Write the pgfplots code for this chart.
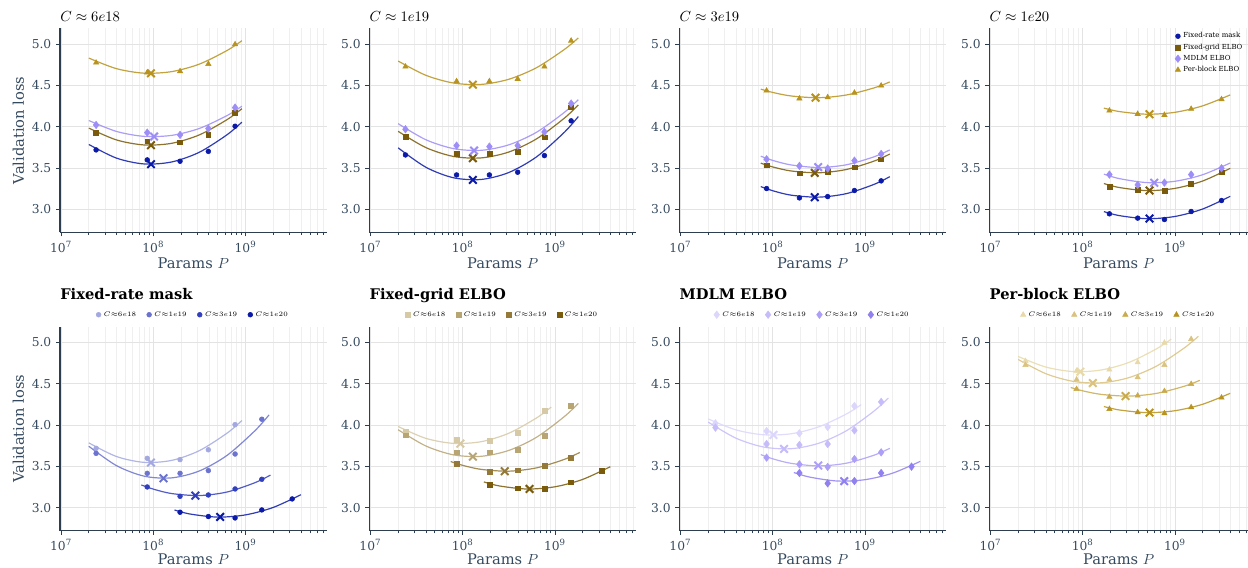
\documentclass[border=0pt]{standalone}
\usepackage{fontspec}
\setmainfont{DejaVu Serif}
\usepackage{pgfplots}
\pgfplotsset{compat=1.18}
\usepackage{pgfplotstable}

\definecolor{FRa}{HTML}{A3A9E0}
\definecolor{FRb}{HTML}{6B73CF}
\definecolor{FRc}{HTML}{3340BE}
\definecolor{FRd}{HTML}{0B1AA8}
\definecolor{FGa}{HTML}{D6C9A6}
\definecolor{FGb}{HTML}{B8A574}
\definecolor{FGc}{HTML}{957938}
\definecolor{FGd}{HTML}{7A5B0B}
\definecolor{MDa}{HTML}{DCD5FC}
\definecolor{MDb}{HTML}{C6BCFA}
\definecolor{MDc}{HTML}{AD9FF7}
\definecolor{MDd}{HTML}{9080F0}
\definecolor{MDm}{HTML}{9D8DF6}
\definecolor{PBa}{HTML}{E8D9A8}
\definecolor{PBb}{HTML}{DAC27F}
\definecolor{PBc}{HTML}{C9AA4C}
\definecolor{PBd}{HTML}{B8931E}
\definecolor{textc}{HTML}{34495E}
\definecolor{spinec}{HTML}{2C3E50}
\definecolor{gridc}{HTML}{E3E3E3}
\definecolor{gridm}{HTML}{EFEFEF}

% measured points: P, Fixed-rate, Fixed-grid, MDLM, Per-block
\pgfplotstableread{
P FR FG MD PB
2.4e7 3.718 3.924 4.020 4.774
8.6e7 3.597 3.823 3.927 4.655
1.95e8 3.581 3.810 3.900 4.670
3.95e8 3.700 3.903 3.976 4.758
7.7e8 4.005 4.170 4.230 4.996
}\ptsA
\pgfplotstableread{
P FR FG MD PB
2.4e7 3.657 3.875 3.968 4.726
8.6e7 3.415 3.669 3.770 4.549
1.95e8 3.415 3.669 3.758 4.549
3.95e8 3.448 3.700 3.770 4.577
7.7e8 3.649 3.870 3.935 4.726
1.5e9 4.070 4.234 4.280 5.040
}\ptsB
\pgfplotstableread{
P FR FG MD PB
8.6e7 3.250 3.532 3.605 4.435
1.95e8 3.137 3.436 3.524 4.340
3.95e8 3.153 3.452 3.492 4.355
7.7e8 3.226 3.508 3.588 4.410
1.5e9 3.343 3.605 3.669 4.496
}\ptsC
\pgfplotstableread{
P FR FG MD PB
1.95e8 2.944 3.274 3.419 4.193
3.95e8 2.892 3.234 3.294 4.153
7.7e8 2.875 3.226 3.322 4.141
1.5e9 2.972 3.307 3.419 4.214
3.2e9 3.105 3.448 3.496 4.331
}\ptsD

% fitted curves
\pgfplotstableread{
P FR FG MD PB
2.0e7 3.784 3.982 4.074 4.830
3.98e7 3.619 3.839 3.942 4.702
7.94e7 3.548 3.778 3.882 4.647
1.585e8 3.572 3.798 3.894 4.666
3.16e8 3.690 3.900 3.978 4.757
6.31e8 3.902 4.085 4.134 4.922
9.12e8 4.054 4.217 4.247 5.040
}\fitA
\pgfplotstableread{
P FR FG MD PB
2.0e7 3.743 3.943 4.036 4.794
3.98e7 3.509 3.747 3.842 4.622
7.94e7 3.381 3.639 3.734 4.528
1.585e8 3.360 3.621 3.713 4.511
3.16e8 3.444 3.692 3.779 4.573
6.31e8 3.633 3.851 3.931 4.713
1.259e9 3.929 4.100 4.170 4.932
1.795e9 4.122 4.262 4.327 5.074
}\fitB
\pgfplotstableread{
P FR FG MD PB
7.43e7 3.274 3.558 3.642 4.454
1.0e8 3.224 3.512 3.591 4.414
1.585e8 3.170 3.463 3.536 4.371
3.16e8 3.146 3.441 3.505 4.350
6.31e8 3.189 3.481 3.538 4.383
1.259e9 3.301 3.583 3.635 4.469
1.862e9 3.394 3.668 3.718 4.541
}\fitC
\pgfplotstableread{
P FR FG MD PB
1.70e8 2.971 3.311 3.425 4.224
2.51e8 2.922 3.262 3.370 4.182
5.01e8 2.885 3.225 3.322 4.150
1.0e9 2.912 3.252 3.338 4.173
1.995e9 3.002 3.341 3.417 4.251
3.98e9 3.156 3.495 3.560 4.384
}\fitD

\newcommand{\fitline}[3]{\addplot[color=#1, line width=0.9pt, opacity=0.85, smooth, no markers, forget plot] table[x=P,y=#3]{#2};}
\newcommand{\optmark}[3]{\addplot[forget plot, only marks, mark=x, mark size=4pt, color=#1, mark options={line width=1.5pt}] coordinates {(#2,#3)};}

\pgfplotsset{
  every axis/.append style={
    scale only axis, width=200pt, height=153pt, anchor=south west,
    xmin=9.75e6, xmax=7.57e9, ymin=2.72, ymax=5.19,
    axis x line*=bottom, axis y line*=left,
    axis line style={spinec, line width=0.9pt},
    xtick={1e7,1e8,1e9},
    xticklabels={10\textsuperscript{7},10\textsuperscript{8},10\textsuperscript{9}},
    minor xtick={2e7,3e7,4e7,5e7,6e7,7e7,8e7,9e7,2e8,3e8,4e8,5e8,6e8,7e8,8e8,9e8,2e9,3e9,4e9,5e9,6e9,7e9,8e9,9e9},
    ytick={3,3.5,4,4.5,5}, yticklabels={3.0,3.5,4.0,4.5,5.0},
    grid=both, major grid style={gridc, line width=0.6pt}, minor grid style={gridm, line width=0.5pt},
    tick align=outside, major tick length=3pt, minor tick length=2pt,
    tick style={spinec, line width=0.6pt},
    every tick label/.append style={font=\fontsize{9.2}{10}\selectfont, text=textc},
    xlabel={Params $P$},
    x label style={at={(axis description cs:0.5,-0.152)}, anchor=center, font=\fontsize{11}{12}\selectfont, text=textc},
    y label style={at={(axis description cs:-0.156,0.5)}, anchor=center, font=\fontsize{11}{12}\selectfont, text=textc},
  },
  mypts/.style={only marks},
  mkFR/.style={mark=*, mark size=1.8pt},
  mkFG/.style={mark=square*, mark size=1.8pt},
  mkMD/.style={mark=diamond*, mark size=2.8pt},
  mkPB/.style={mark=triangle*, mark size=2.3pt},
}

\begin{document}
\begin{tikzpicture}
\useasboundingbox (0,0) rectangle (936pt,425.25pt);

% ---------------- top row ----------------
\begin{axis}[xmode=log, at={(45pt,251pt)},
  title style={at={(0,1)}, anchor=base west, inner sep=0pt, yshift=-1pt, font=\fontsize{10.5}{12}\selectfont},
  title={$C\approx 6e18$}, ylabel={Validation loss}]
\fitline{FRd}{\fitA}{FR}
\fitline{FGd}{\fitA}{FG}
\fitline{MDm}{\fitA}{MD}
\fitline{PBd}{\fitA}{PB}
\addplot[mypts, mkFR, FRd] table[x=P,y=FR]{\ptsA};
\addplot[mypts, mkFG, FGd] table[x=P,y=FG]{\ptsA};
\addplot[mypts, mkMD, MDm] table[x=P,y=MD]{\ptsA};
\addplot[mypts, mkPB, PBd] table[x=P,y=PB]{\ptsA};
\optmark{FRd}{9.44e7}{3.545}
\optmark{FGd}{9.44e7}{3.775}
\optmark{MDm}{1.02e8}{3.880}
\optmark{PBd}{9.44e7}{4.645}
\end{axis}

\begin{axis}[xmode=log, at={(277pt,251pt)},
  title style={at={(0,1)}, anchor=base west, inner sep=0pt, yshift=-1pt, font=\fontsize{10.5}{12}\selectfont},
  title={$C\approx 1e19$}]
\fitline{FRd}{\fitB}{FR}
\fitline{FGd}{\fitB}{FG}
\fitline{MDm}{\fitB}{MD}
\fitline{PBd}{\fitB}{PB}
\addplot[mypts, mkFR, FRd] table[x=P,y=FR]{\ptsB};
\addplot[mypts, mkFG, FGd] table[x=P,y=FG]{\ptsB};
\addplot[mypts, mkMD, MDm] table[x=P,y=MD]{\ptsB};
\addplot[mypts, mkPB, PBd] table[x=P,y=PB]{\ptsB};
\optmark{FRd}{1.29e8}{3.355}
\optmark{FGd}{1.29e8}{3.617}
\optmark{MDm}{1.33e8}{3.710}
\optmark{PBd}{1.29e8}{4.508}
\end{axis}

\begin{axis}[xmode=log, at={(509.5pt,251pt)},
  title style={at={(0,1)}, anchor=base west, inner sep=0pt, yshift=-1pt, font=\fontsize{10.5}{12}\selectfont},
  title={$C\approx 3e19$}]
\fitline{FRd}{\fitC}{FR}
\fitline{FGd}{\fitC}{FG}
\fitline{MDm}{\fitC}{MD}
\fitline{PBd}{\fitC}{PB}
\addplot[mypts, mkFR, FRd] table[x=P,y=FR]{\ptsC};
\addplot[mypts, mkFG, FGd] table[x=P,y=FG]{\ptsC};
\addplot[mypts, mkMD, MDm] table[x=P,y=MD]{\ptsC};
\addplot[mypts, mkPB, PBd] table[x=P,y=PB]{\ptsC};
\optmark{FRd}{2.86e8}{3.145}
\optmark{FGd}{2.86e8}{3.440}
\optmark{MDm}{3.12e8}{3.510}
\optmark{PBd}{2.92e8}{4.350}
\end{axis}

\begin{axis}[xmode=log, at={(742pt,251pt)}, width=194pt, xmax=6.2e9,
  title style={at={(0,1)}, anchor=base west, inner sep=0pt, yshift=-1pt, font=\fontsize{10.5}{12}\selectfont},
  title={$C\approx 1e20$},
  legend entries={Fixed-rate mask,Fixed-grid ELBO,MDLM ELBO,Per-block ELBO},
  legend style={at={(1,1)}, anchor=north east, xshift=-1pt, yshift=0pt, draw=none, fill=none,
    font=\fontsize{5.2}{6}\selectfont, row sep=-1pt, inner sep=1pt},
  legend cell align=left]
\fitline{FRd}{\fitD}{FR}
\fitline{FGd}{\fitD}{FG}
\fitline{MDm}{\fitD}{MD}
\fitline{PBd}{\fitD}{PB}
\addplot[mypts, mkFR, FRd] table[x=P,y=FR]{\ptsD};
\addplot[mypts, mkFG, FGd] table[x=P,y=FG]{\ptsD};
\addplot[mypts, mkMD, MDm] table[x=P,y=MD]{\ptsD};
\addplot[mypts, mkPB, PBd] table[x=P,y=PB]{\ptsD};
\optmark{FRd}{5.31e8}{2.887}
\optmark{FGd}{5.31e8}{3.226}
\optmark{MDm}{5.97e8}{3.320}
\optmark{PBd}{5.31e8}{4.150}
\end{axis}

% ---------------- bottom row ----------------
\begin{axis}[xmode=log, at={(45pt,27.2pt)},
  x label style={at={(axis description cs:0.5,-0.138)}},
  title style={at={(0,1)}, anchor=base west, inner sep=0pt, yshift=14.5pt, font=\fontsize{11}{13}\selectfont\bfseries},
  title={Fixed-rate mask}, ylabel={Validation loss},
  legend columns=4,
  legend style={at={(0.5,1)}, anchor=center, yshift=9pt, draw=none, fill=none,
    font=\fontsize{5}{6}\selectfont, /tikz/every even column/.append style={column sep=6pt}},
  legend entries={$C{\approx}6e18$,$C{\approx}1e19$,$C{\approx}3e19$,$C{\approx}1e20$}]
\fitline{FRa}{\fitA}{FR}
\fitline{FRb}{\fitB}{FR}
\fitline{FRc}{\fitC}{FR}
\fitline{FRd}{\fitD}{FR}
\addplot[mypts, mkFR, FRa] table[x=P,y=FR]{\ptsA};
\addplot[mypts, mkFR, FRb] table[x=P,y=FR]{\ptsB};
\addplot[mypts, mkFR, FRc] table[x=P,y=FR]{\ptsC};
\addplot[mypts, mkFR, FRd] table[x=P,y=FR]{\ptsD};
\optmark{FRa}{9.44e7}{3.545}
\optmark{FRb}{1.29e8}{3.355}
\optmark{FRc}{2.86e8}{3.145}
\optmark{FRd}{5.31e8}{2.887}
\end{axis}

\begin{axis}[xmode=log, at={(277pt,27.2pt)},
  x label style={at={(axis description cs:0.5,-0.138)}},
  title style={at={(0,1)}, anchor=base west, inner sep=0pt, yshift=14.5pt, font=\fontsize{11}{13}\selectfont\bfseries},
  title={Fixed-grid ELBO},
  legend columns=4,
  legend style={at={(0.5,1)}, anchor=center, yshift=9pt, draw=none, fill=none,
    font=\fontsize{5}{6}\selectfont, /tikz/every even column/.append style={column sep=6pt}},
  legend entries={$C{\approx}6e18$,$C{\approx}1e19$,$C{\approx}3e19$,$C{\approx}1e20$}]
\fitline{FGa}{\fitA}{FG}
\fitline{FGb}{\fitB}{FG}
\fitline{FGc}{\fitC}{FG}
\fitline{FGd}{\fitD}{FG}
\addplot[mypts, mkFG, FGa] table[x=P,y=FG]{\ptsA};
\addplot[mypts, mkFG, FGb] table[x=P,y=FG]{\ptsB};
\addplot[mypts, mkFG, FGc] table[x=P,y=FG]{\ptsC};
\addplot[mypts, mkFG, FGd] table[x=P,y=FG]{\ptsD};
\optmark{FGa}{9.44e7}{3.775}
\optmark{FGb}{1.29e8}{3.617}
\optmark{FGc}{2.86e8}{3.440}
\optmark{FGd}{5.31e8}{3.226}
\end{axis}

\begin{axis}[xmode=log, at={(509.5pt,27.2pt)},
  x label style={at={(axis description cs:0.5,-0.138)}},
  title style={at={(0,1)}, anchor=base west, inner sep=0pt, yshift=14.5pt, font=\fontsize{11}{13}\selectfont\bfseries},
  title={MDLM ELBO},
  legend columns=4,
  legend style={at={(0.5,1)}, anchor=center, yshift=9pt, draw=none, fill=none,
    font=\fontsize{5}{6}\selectfont, /tikz/every even column/.append style={column sep=6pt}},
  legend entries={$C{\approx}6e18$,$C{\approx}1e19$,$C{\approx}3e19$,$C{\approx}1e20$}]
\fitline{MDa}{\fitA}{MD}
\fitline{MDb}{\fitB}{MD}
\fitline{MDc}{\fitC}{MD}
\fitline{MDd}{\fitD}{MD}
\addplot[mypts, mkMD, MDa] table[x=P,y=MD]{\ptsA};
\addplot[mypts, mkMD, MDb] table[x=P,y=MD]{\ptsB};
\addplot[mypts, mkMD, MDc] table[x=P,y=MD]{\ptsC};
\addplot[mypts, mkMD, MDd] table[x=P,y=MD]{\ptsD};
\optmark{MDa}{1.02e8}{3.880}
\optmark{MDb}{1.33e8}{3.710}
\optmark{MDc}{3.12e8}{3.510}
\optmark{MDd}{5.97e8}{3.320}
\end{axis}

\begin{axis}[xmode=log, at={(742pt,27.2pt)}, width=194pt, xmax=6.2e9,
  x label style={at={(axis description cs:0.5,-0.138)}},
  title style={at={(0,1)}, anchor=base west, inner sep=0pt, yshift=14.5pt, font=\fontsize{11}{13}\selectfont\bfseries},
  title={Per-block ELBO},
  legend columns=4,
  legend style={at={(0.5,1)}, anchor=center, yshift=9pt, draw=none, fill=none,
    font=\fontsize{5}{6}\selectfont, /tikz/every even column/.append style={column sep=6pt}},
  legend entries={$C{\approx}6e18$,$C{\approx}1e19$,$C{\approx}3e19$,$C{\approx}1e20$}]
\fitline{PBa}{\fitA}{PB}
\fitline{PBb}{\fitB}{PB}
\fitline{PBc}{\fitC}{PB}
\fitline{PBd}{\fitD}{PB}
\addplot[mypts, mkPB, PBa] table[x=P,y=PB]{\ptsA};
\addplot[mypts, mkPB, PBb] table[x=P,y=PB]{\ptsB};
\addplot[mypts, mkPB, PBc] table[x=P,y=PB]{\ptsC};
\addplot[mypts, mkPB, PBd] table[x=P,y=PB]{\ptsD};
\optmark{PBa}{9.44e7}{4.645}
\optmark{PBb}{1.29e8}{4.508}
\optmark{PBc}{2.92e8}{4.350}
\optmark{PBd}{5.31e8}{4.150}
\end{axis}
\end{tikzpicture}
\end{document}
